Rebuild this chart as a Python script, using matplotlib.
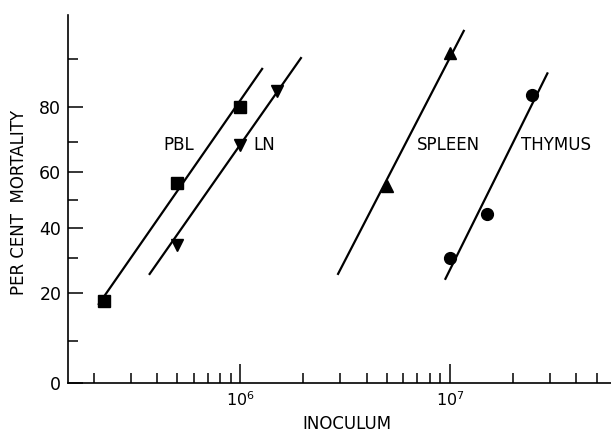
import numpy as np
import matplotlib
matplotlib.use("Agg")
import matplotlib.pyplot as plt
from matplotlib.ticker import FixedLocator, FixedFormatter, LogLocator, NullFormatter
from statistics import NormalDist

# values: inoculum (cells) vs per cent mortality
pbl_dose = [2.25e5, 5.0e5, 1.0e6]
pbl_mort = [18, 56, 80]
ln_dose = [5.0e5, 1.0e6, 1.5e6]
ln_mort = [34, 69, 84]
spleen_dose = [5.0e6, 1.0e7]
spleen_mort = [55, 91]
thymus_dose = [1.0e7, 1.5e7, 2.45e7]
thymus_mort = [30, 45, 83]

# end points of the fitted lines
pbl_fit_x = [2.1e5, 1.28e6]
pbl_fit_y = [17.0, 88.5]
ln_fit_x = [3.67e5, 1.96e6]
ln_fit_y = [24.8, 90.3]
spleen_fit_x = [2.91e6, 1.17e7]
spleen_fit_y = [24.8, 93.9]
thymus_fit_x = [9.46e6, 2.93e7]
thymus_fit_y = [23.4, 87.7]

y_major = [0, 20, 40, 60, 80]
y_minor = [10, 30, 50, 70, 90]

# probit paper: 0 % is just a baseline drawn a little below 5 %
_nd = NormalDist()
Z5 = _nd.inv_cdf(0.05)
Z0 = -1.664


def _fwd1(v):
    if not np.isfinite(v):
        return np.nan
    if v < 5:
        return Z0 + (Z5 - Z0) * v / 5.0
    p = min(v / 100.0, 1 - 1e-9)
    return _nd.inv_cdf(p)


def _inv1(z):
    if not np.isfinite(z):
        return np.nan
    if z < Z5:
        return (z - Z0) / (Z5 - Z0) * 5.0
    return _nd.cdf(z) * 100.0


probit_fwd = np.vectorize(_fwd1, otypes=[float])
probit_inv = np.vectorize(_inv1, otypes=[float])

plt.rcParams['font.family'] = ['DejaVu Sans']

fig = plt.figure(figsize=(6.11, 4.34), dpi=100)
ax = fig.add_axes([0.1118, 0.1175, 0.8882, 0.8479])
ax.set_xscale('log')
ax.set_yscale('function', functions=(probit_fwd, probit_inv))

series = [
    (pbl_dose, pbl_mort, pbl_fit_x, pbl_fit_y, 's', 8),
    (ln_dose, ln_mort, ln_fit_x, ln_fit_y, 'v', 9),
    (spleen_dose, spleen_mort, spleen_fit_x, spleen_fit_y, '^', 9),
    (thymus_dose, thymus_mort, thymus_fit_x, thymus_fit_y, 'o', 8.5),
]
for dose, mort, fx, fy, mk, ms in series:
    ax.plot(fx, fy, color='black', lw=1.6, solid_capstyle='butt')
    ax.plot(dose, mort, linestyle='none', marker=mk, markersize=ms,
            color='black')

lab_kw = dict(ha='center', va='center', fontsize=12)
ax.text(5.1e5, 69, 'PBL', **lab_kw)
ax.text(1.3e6, 69, 'LN', **lab_kw)
ax.text(9.8e6, 69, 'SPLEEN', **lab_kw)
ax.text(3.2e7, 69, 'THYMUS', **lab_kw)

ax.set_xlim(1.513e5, 5.86e7)
ax.set_ylim(0, 95.37)

ax.xaxis.set_major_locator(LogLocator(base=10))
ax.xaxis.set_minor_locator(LogLocator(base=10, subs=np.arange(2, 10)))
ax.xaxis.set_minor_formatter(NullFormatter())
ax.yaxis.set_major_locator(FixedLocator(y_major))
ax.yaxis.set_minor_locator(FixedLocator(y_minor))
ax.yaxis.set_major_formatter(FixedFormatter([str(v) for v in y_major]))

ax.tick_params(axis='x', which='major', direction='in', length=13.5,
               width=1.1, labelsize=11.5, pad=5)
ax.tick_params(axis='x', which='minor', direction='in', length=7.5, width=1.1)
ax.tick_params(axis='y', which='major', direction='in', length=11,
               width=1.1, labelsize=12.5, pad=5)
ax.tick_params(axis='y', which='minor', direction='in', length=7, width=1.1)

for side in ('top', 'right'):
    ax.spines[side].set_visible(False)
for side in ('left', 'bottom'):
    ax.spines[side].set_linewidth(1.2)

ax.set_xlabel('INOCULUM', fontsize=12)
ax.set_ylabel('PER CENT  MORTALITY', fontsize=12)
ax.xaxis.set_label_coords(0.513, -0.086)
ax.yaxis.set_label_coords(-0.075, 0.49)

fig.savefig('out.png', dpi=100)
